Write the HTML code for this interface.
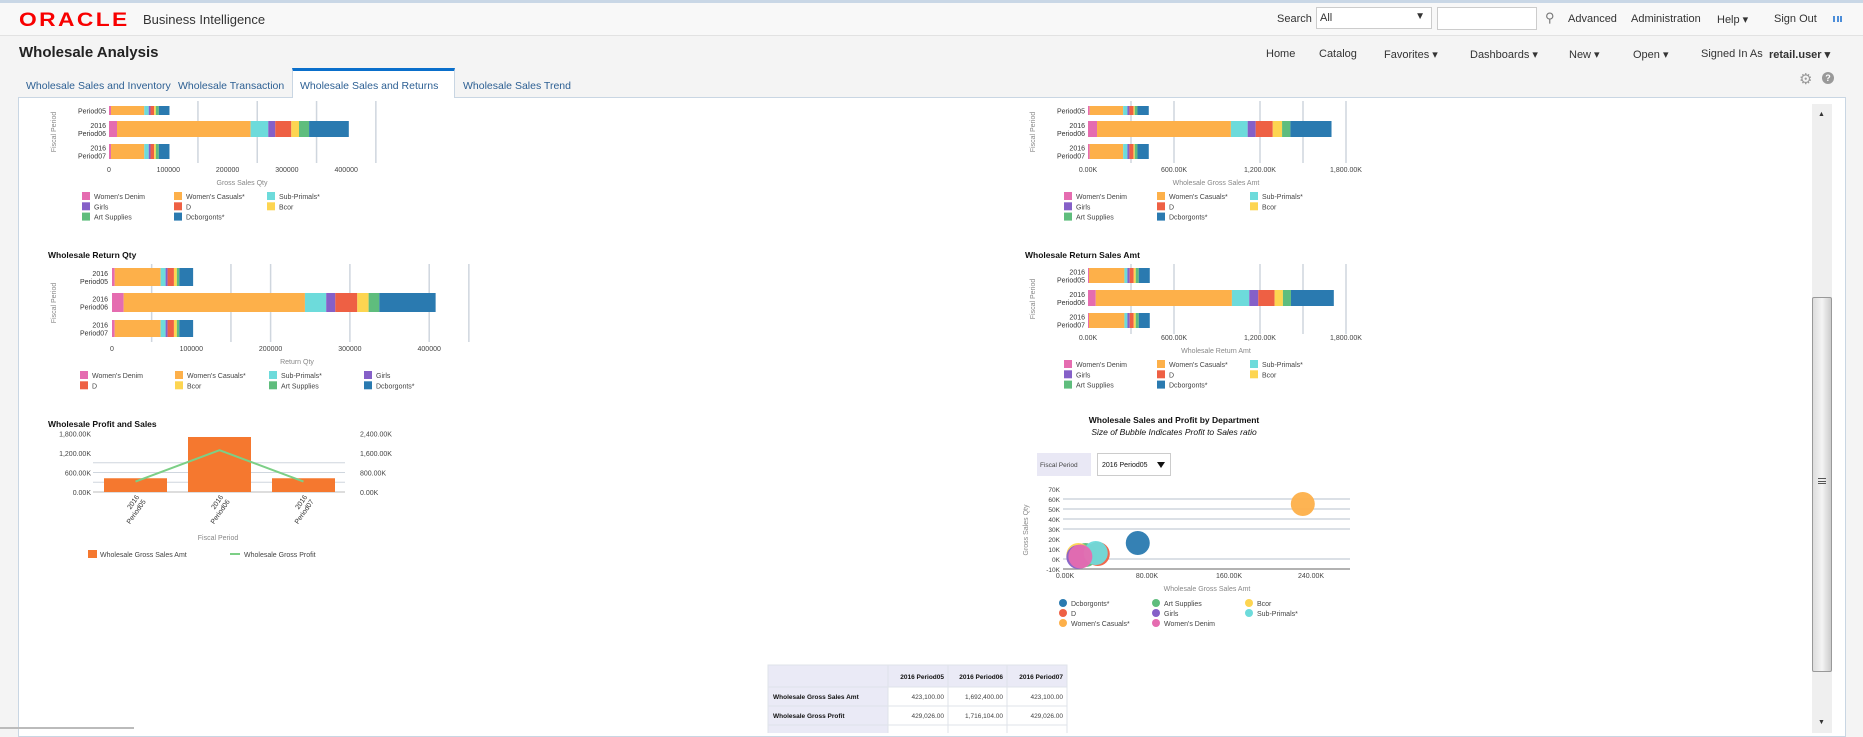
<!DOCTYPE html>
<html><head><meta charset="utf-8">
<style>
*{box-sizing:border-box;margin:0;padding:0}
body{width:1863px;height:733px;overflow:hidden;background:#f4f4f4;font-family:"Liberation Sans",sans-serif;position:relative;color:#333}
.a{position:absolute;white-space:nowrap}
#topbar{left:0;top:0;width:1863px;height:36px;background:#f8f8f8;border-top:3px solid #c9d7e6;border-bottom:1px solid #e2e2e2}
.nav{font-size:11px;color:#333}
.tab{font-size:10.5px;color:#2c5f93;top:80px}
svg text{font-family:"Liberation Sans",sans-serif}
</style></head>
<body>
<div id="topbar" class="a"></div>
<div class="a" style="left:19px;top:10px;font-size:19px;font-weight:bold;color:#f80000;letter-spacing:2px;transform:scaleX(1.2);transform-origin:left">ORACLE</div>
<div class="a" style="left:143px;top:12px;font-size:13px;color:#333">Business Intelligence</div>
<div class="a nav" style="left:1277px;top:13px">Search</div>
<div class="a" style="left:1316px;top:7px;width:116px;height:22px;background:#fff;border:1px solid #ccc;font-size:11px;padding:4px 3px">All<span style="position:absolute;right:6px;top:3px;font-size:10px">▼</span></div>
<div class="a" style="left:1437px;top:7px;width:100px;height:23px;background:#fff;border:1px solid #ccc"></div>
<div class="a nav" style="left:1545px;top:10px;font-size:13px;color:#777">⚲</div>
<div class="a nav" style="left:1568px;top:13px">Advanced</div>
<div class="a nav" style="left:1631px;top:13px">Administration</div>
<div class="a nav" style="left:1717px;top:13px">Help ▾</div>
<div class="a nav" style="left:1774px;top:13px">Sign Out</div>
<div class="a" style="left:1833px;top:16px;width:9px;height:6px;border-left:2px solid #4d8ed9;border-right:2px solid #4d8ed9"><div style="margin-left:1.5px;width:2px;height:6px;background:#4d8ed9"></div></div>

<div class="a" style="left:19px;top:44px;font-size:15px;font-weight:bold;color:#222">Wholesale Analysis</div>
<div class="a nav" style="left:1266px;top:48px">Home</div>
<div class="a nav" style="left:1319px;top:48px">Catalog</div>
<div class="a nav" style="left:1384px;top:48px">Favorites ▾</div>
<div class="a nav" style="left:1470px;top:48px">Dashboards ▾</div>
<div class="a nav" style="left:1569px;top:48px">New ▾</div>
<div class="a nav" style="left:1633px;top:48px">Open ▾</div>
<div class="a nav" style="left:1701px;top:48px">Signed In As</div>
<div class="a nav" style="left:1769px;top:48px;font-weight:bold">retail.user ▾</div>
<div class="a" style="left:1799px;top:70px;font-size:15px;color:#999">⚙</div>
<div class="a" style="left:1822px;top:72px;width:12px;height:12px;border-radius:50%;background:#999;color:#fff;font-size:9px;font-weight:bold;text-align:center;line-height:12px">?</div>

<div class="a" style="left:18px;top:97px;width:1828px;height:640px;background:#fff;border:1px solid #c9d6e3"></div>
<div class="a tab" style="left:26px">Wholesale Sales and Inventory</div>
<div class="a tab" style="left:178px">Wholesale Transaction</div>
<div class="a tab" style="left:292px;top:68px;width:163px;height:30px;background:#fff;border:1px solid #c9d6e3;border-top:3px solid #0a6fcb;border-bottom:none;padding:9px 0 0 7px;color:#2c5f93">Wholesale Sales and Returns</div>
<div class="a tab" style="left:463px">Wholesale Sales Trend</div>

<div class="a" style="left:1812px;top:104px;width:20px;height:629px;background:#efefef">
 <div style="position:absolute;left:6px;top:7px;font-size:7px;color:#333">▲</div>
 <div style="position:absolute;left:0;top:193px;width:20px;height:375px;background:linear-gradient(90deg,#ddd,#f4f4f4,#ccc);border:1px solid #999;border-radius:2px"><div style="position:absolute;left:5px;top:180px;width:8px;height:6px;border-top:1px solid #555;border-bottom:1px solid #555"><div style="margin-top:2px;height:1px;background:#555"></div></div></div>
 <div style="position:absolute;left:6px;top:615px;font-size:7px;color:#333">▼</div>
</div>
<div class="a" style="left:0;top:727px;width:134px;height:2px;background:#bbb"></div>

<svg class="a" style="left:0;top:0" width="1863" height="733" id="charts"></svg>

<script>
const periods=['2016 Period05','2016 Period06','2016 Period07'];
const depts=["Women's Denim","Women's Casuals*","Sub-Primals*","Girls","D","Bcor","Art Supplies","Dcborgonts*"];
const colors=['#e56cb0','#fdb04a','#6ddbdb','#8560c8','#ee6044','#fdd551','#5fbd7d','#2a7ab0'];
const grossQtyP05=[3400,56100,7500,3000,6000,3000,5000,18000];
const grossQtyP06=[13500,225300,29800,11800,27000,13000,17000,67000];
const grossQtyP07=[3400,56100,7500,3000,6000,3000,5000,18000];
const returnQtyP05=[3400,57900,6300,2500,8000,3700,3000,17500];
const returnQtyP06=[14700,228600,26800,11500,27700,14300,13500,71000];
const returnQtyP07=[3400,57900,6300,2500,8000,3700,3000,17500];
const grossAmtP05=[12000,233000,30000,14000,28000,9000,19000,79000];
const grossAmtP06=[63000,934000,117000,56000,119000,65000,58000,287000];
const grossAmtP07=[12000,233000,30000,14000,28000,9000,19000,79000];
const returnAmtP05=[7000,247000,21000,16000,28000,14000,21000,77000];
const returnAmtP06=[54000,950000,121000,63000,114000,58000,56000,299000];
const returnAmtP07=[7000,247000,21000,16000,28000,14000,21000,77000];
const qtyTicks=[0,100000,200000,300000,400000];
const qtyTickLabels=['0','100000','200000','300000','400000'];
const amtTicks=[0,600000,1200000,1800000];
const amtTickLabels=['0.00K','600.00K','1,200.00K','1,800.00K'];
const salesAmt=[423100,1692400,423100];
const grossProfit=[429026,1716104,429026];
const leftTicks=[0,600000,1200000,1800000];
const leftTickLabels=['0.00K','600.00K','1,200.00K','1,800.00K'];
const rightTicks=[0,800000,1600000,2400000];
const rightTickLabels=['0.00K','800.00K','1,600.00K','2,400.00K'];
const bubbleDepts=['Dcborgonts*','Art Supplies','Bcor','D','Girls','Sub-Primals*',"Women's Casuals*","Women's Denim"];
const bubbleColors=['#2a7ab0','#5fbd7d','#fdd551','#ee6044','#8560c8','#6ddbdb','#fdb04a','#e56cb0'];
const bubbleSalesAmt=[71000,20000,13000,32000,13000,30000,232000,15000];
const bubbleQty=[16000,4000,4000,5000,2000,6000,55000,2500];
const bubbleRatio=[1,1,1,1,1,1,1,1];
const bubbleXTicks=[0,80000,160000,240000];
const bubbleXLabels=['0.00K','80.00K','160.00K','240.00K'];
const bubbleYTicks=[-10000,0,10000,20000,30000,40000,50000,60000,70000];
const bubbleYLabels=['-10K','0K','10K','20K','30K','40K','50K','60K','70K'];

const S=document.getElementById('charts');
const NS='http://www.w3.org/2000/svg';
function mk(tag,at,txt){const e=document.createElementNS(NS,tag);for(const k in at)e.setAttribute(k,at[k]);if(txt!=null)e.textContent=txt;S.appendChild(e);return e;}
function txt(x,y,s,size,fill,anchor,extra){const e=mk('text',Object.assign({x:x,y:y,'font-size':size,fill:fill,'text-anchor':anchor||'start'},extra||{}),s);return e;}

function hbar(c){
  const sx=v=>c.x0+v*c.px;
  c.grid.forEach(g=>{const l=mk('line',{x1:sx(g),x2:sx(g),y1:c.gy0,y2:c.gy1,stroke:'#cfd6de','stroke-width':1.5});
    
    });
  c.data.forEach((row,i)=>{let acc=0;const [t,b]=c.bands[i];
    row.forEach((v,j)=>{const r=mk('rect',{x:sx(acc),y:t,width:Math.max(0,v*c.px),height:b-t,fill:colors[j]});
      
      acc+=v;});
    const cy=(t+b)/2;
    if(c.first05&&i===0){txt(c.lx,cy+3,'Period05',7,'#333','end');}
    else{txt(c.lx,cy-1,periods[i].split(' ')[0],7,'#333','end');txt(c.lx,cy+7,periods[i].split(' ')[1],7,'#333','end');}
  });
  c.ticks.forEach((v,i)=>{const e=txt(sx(v),c.ty,c.tl[i],7,'#444','middle');
    
    });
  const xt=txt(c.tcx,c.tty,c.title,7,'#888','middle');
  
  
  const yt=txt(0,0,'Fiscal Period',7,'#888','middle',{transform:`translate(${c.yax},${(c.gy0+c.gy1)/2}) rotate(-90)`});
  
  
  c.legendOrder.forEach((d,k)=>{const col=k%c.cols,row=Math.floor(k/c.cols);
    const x=c.legX[col],y=c.legY+row*10.3;
    const r=mk('rect',{x:x,y:y-4,width:8,height:8,fill:colors[d]});
    
    
    const t=txt(x+12,y+3,depts[d],7,'#444');
    
    });
}
const ord3=[0,1,2,3,4,5,6,7];
hbar({x0:109,px:59.3/100000,bands:[[106,115],[121,137],[144,159]],data:[grossQtyP05,grossQtyP06,grossQtyP07],grid:[150000,250000,350000,450000],gy0:101,gy1:163,lx:106,first05:true,ticks:qtyTicks,tl:qtyTickLabels,ty:172,tcx:242,tty:185,title:'Gross Sales Qty',yax:56,legendOrder:ord3,cols:3,legX:[82,174,267],legY:196});
hbar({x0:112,px:79.3/100000,bands:[[268,286],[293,312],[320,337]],data:[returnQtyP05,returnQtyP06,returnQtyP07],grid:[50000,150000,200000,300000,400000,450000],gy0:264,gy1:342,lx:108,ticks:qtyTicks,tl:qtyTickLabels,ty:351,tcx:297,tty:364,title:'Return Qty',yax:56,legendOrder:ord3,cols:4,legX:[80,175,269,364],legY:375});
hbar({x0:1088,px:86/600000,bands:[[106,115],[121,137],[144,159]],data:[grossAmtP05,grossAmtP06,grossAmtP07],grid:[300000,600000,1200000,1500000,1800000],gy0:101,gy1:163,lx:1085,first05:true,ticks:amtTicks,tl:amtTickLabels,ty:172,tcx:1216,tty:185,title:'Wholesale Gross Sales Amt',yax:1035,legendOrder:ord3,cols:3,legX:[1064,1157,1250],legY:196});
hbar({x0:1088,px:86/600000,bands:[[268,283],[290,306],[313,328]],data:[returnAmtP05,returnAmtP06,returnAmtP07],grid:[300000,600000,1200000,1500000,1800000],gy0:264,gy1:334,lx:1085,ticks:amtTicks,tl:amtTickLabels,ty:340,tcx:1216,tty:353,title:'Wholesale Return Amt',yax:1035,legendOrder:ord3,cols:3,legX:[1064,1157,1250],legY:364});

[['Wholesale Return Qty',48,258],['Wholesale Return Sales Amt',1025,258],['Wholesale Profit and Sales',48,427]].forEach(a=>{const t=txt(a[1],a[2],a[0],8.5,'#111','start',{'font-weight':'bold'});
  
  });

(function(){
  const y0=492,ly=v=>y0-v*19.5/600000,ry=v=>y0-v*19.5/800000;
  const cx=[135.5,219.5,303.5],bw=63;
  [300000,600000,900000].forEach(g=>{const l=mk('line',{x1:93,x2:345,y1:ly(g),y2:ly(g),stroke:'#cfd6de','stroke-width':1});
    
    });
  mk('line',{x1:93,x2:345,y1:y0,y2:y0,stroke:'#bbb'});
  salesAmt.forEach((v,i)=>{const r=mk('rect',{x:cx[i]-bw/2,y:ly(v),width:bw,height:y0-ly(v),fill:'#f5782f'});
    
    });
  const p=mk('polyline',{points:grossProfit.map((v,i)=>cx[i]+','+ry(v)).join(' '),fill:'none',stroke:'#7ccf86','stroke-width':2});
  
  
  leftTicks.forEach((v,i)=>txt(91,ly(v)+3,leftTickLabels[i],7,'#444','end'));
  rightTicks.forEach((v,i)=>txt(360,ry(v)+3,rightTickLabels[i],7,'#444','start'));
  periods.forEach((s,i)=>{const t=txt(0,0,'',7,'#333','end',{transform:`translate(${cx[i]+4},${y0+5}) rotate(-55)`});
    const a=document.createElementNS(NS,'tspan');a.setAttribute('x',0);a.setAttribute('dy',0);a.textContent='2016';t.appendChild(a);
    const b=document.createElementNS(NS,'tspan');b.setAttribute('x',0);b.setAttribute('dy',8);b.textContent=s.split(' ')[1];t.appendChild(b);});
  txt(218,540,'Fiscal Period',7,'#888','middle');
  const r=mk('rect',{x:88,y:550,width:9,height:8,fill:'#f5782f'});
  
  
  txt(100,557,'Wholesale Gross Sales Amt',7,'#444');
  mk('line',{x1:230,x2:240,y1:554,y2:554,stroke:'#7ccf86','stroke-width':2});
  txt(244,557,'Wholesale Gross Profit',7,'#444');
})();

(function(){
  const sx=v=>1065+v*82/80000,sy=v=>559-v*10/10000;
  txt(1174,423,'Wholesale Sales and Profit by Department',8.5,'#111','middle',{'font-weight':'bold'});
  txt(1174,435,'Size of Bubble Indicates Profit to Sales ratio',8.5,'#111','middle',{'font-style':'italic'});
  const pl=mk('rect',{x:1037,y:453,width:54,height:23,fill:'#e9e8f5'});
  
  
  txt(1040,467,'Fiscal Period',6.5,'#444');
  const dd=mk('rect',{x:1097.5,y:453.5,width:73,height:22,fill:'#fff',stroke:'#ccc'});
  
  
  txt(1102,467,'2016 Period05',7,'#111');
  mk('path',{d:'M1157 462 L1165 462 L1161 468 Z',fill:'#111'});
  [0,30000,40000,50000,60000].forEach(g=>{const l=mk('line',{x1:1063,x2:1350,y1:sy(g),y2:sy(g),stroke:'#cfd6de','stroke-width':1.5});
    
    });
  mk('line',{x1:1063,x2:1350,y1:sy(-10000),y2:sy(-10000),stroke:'#999','stroke-width':1.5});
  bubbleYTicks.forEach((v,i)=>txt(1060,sy(v)+3,bubbleYLabels[i],6.5,'#444','end'));
  bubbleXTicks.forEach((v,i)=>txt(sx(v),578,bubbleXLabels[i],7,'#444','middle'));
  txt(1207,591,'Wholesale Gross Sales Amt',7,'#888','middle');
  txt(0,0,'Gross Sales Qty',7,'#888','middle',{transform:'translate(1028,530) rotate(-90)'});
  const drawOrder=[1,3,2,4,6,0,5,7];
  drawOrder.forEach(i=>{const c=mk('circle',{cx:sx(bubbleSalesAmt[i]),cy:sy(bubbleQty[i]),r:12*bubbleRatio[i],fill:bubbleColors[i],'fill-opacity':0.95});
    
    });
  const lx=[1063,1156,1249];
  bubbleDepts.forEach((d,k)=>{const x=lx[k%3],y=603+Math.floor(k/3)*10;
    const c=mk('circle',{cx:x,cy:y,r:4,fill:bubbleColors[k]});
    
    
    const t=txt(x+8,y+3,d,7,'#444');
    
    });
})();

(function(){
  const cols=[768,888,948,1007,1067],rows=[665,687,706,725,740];
  const hdr=['','2016 Period05','2016 Period06','2016 Period07'];
  const rl=['Wholesale Gross Sales Amt','Wholesale Gross Profit',''];
  const fmt=v=>v.toLocaleString('en-US',{minimumFractionDigits:2});
  const vals=[salesAmt,grossProfit];
  for(let r=0;r<4;r++)for(let c=0;c<4;c++){
    const fill=(r===0||c===0)?'#eaeaf6':'#fff';
    const e=mk('rect',{x:cols[c],y:rows[r],width:cols[c+1]-cols[c],height:rows[r+1]-rows[r],fill:fill,stroke:'#dfe3ea'});
    
    
    if(r===0&&c>0)txt(cols[c+1]-4,rows[0]+14,hdr[c],6.5,'#111','end',{'font-weight':'bold'});
    if(r>0&&r<3&&c===0)txt(cols[0]+5,rows[r]+12,rl[r-1],6.5,'#111','start',{'font-weight':'bold'});
    if(r>0&&r<3&&c>0)txt(cols[c+1]-4,rows[r]+12,fmt(vals[r-1][c-1]),6.5,'#444','end');
  }
})();
</script>
</body></html>
